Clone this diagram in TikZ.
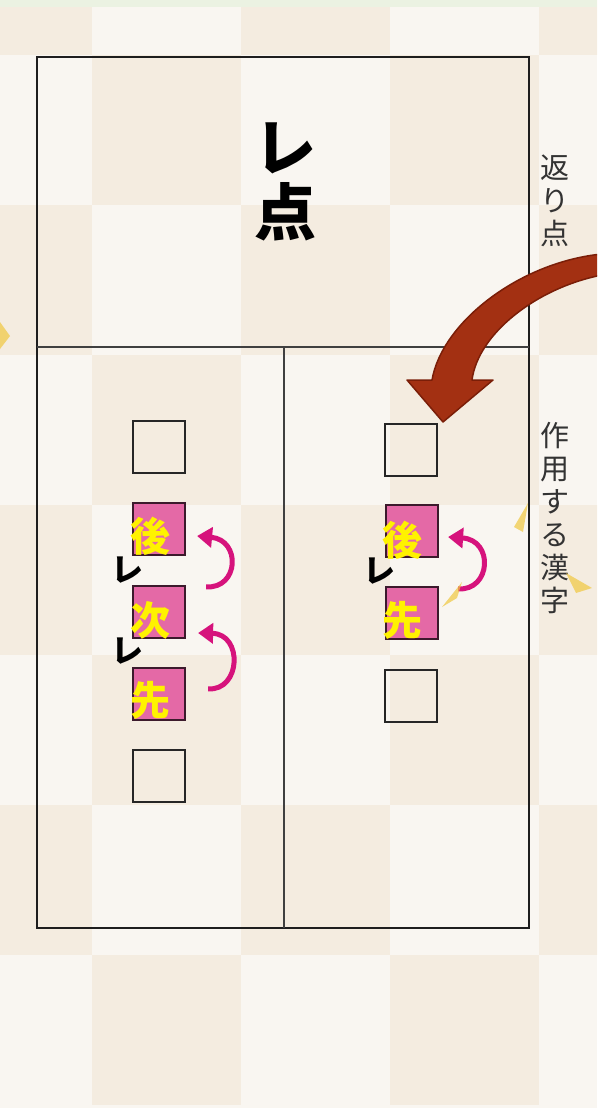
\documentclass[tikz,border=0pt]{standalone}
\usepackage{fontspec}
\newfontfamily\cjk{Noto Sans CJK JP}
\usetikzlibrary{arrows.meta,calc}
\definecolor{tileA}{HTML}{F9F6F1}
\definecolor{tileB}{HTML}{F4ECE0}
\definecolor{pinkfill}{HTML}{E469A6}
\definecolor{pinkedge}{HTML}{3C1A2C}
\definecolor{magarrow}{HTML}{D6137C}
\definecolor{redarrow}{HTML}{A33012}
\definecolor{rededge}{HTML}{7A1E08}
\definecolor{labelgray}{HTML}{333333}
\definecolor{framegray}{HTML}{1E1E1E}
\definecolor{topgreen}{HTML}{EBF2E2}
\definecolor{smudge}{HTML}{F0C840}
\begin{document}
\begin{tikzpicture}[x=1pt,y=-1pt,
  frameline/.style={draw=framegray,line width=2.3pt},
  divline/.style={draw=framegray!85,line width=1.8pt},
  ebox/.style={draw=black!85,line width=2.2pt,minimum size=52pt,inner sep=0pt},
  pbox/.style={draw=pinkedge,fill=pinkfill,line width=2.2pt,minimum size=52pt,inner sep=0pt},
  kanaY/.style={text=yellow,font=\cjk\bfseries\fontsize{40}{40}\selectfont,inner sep=0pt},
  remark/.style={text=black,font=\cjk\bfseries\fontsize{32}{32}\selectfont,inner sep=0pt},
  sidelabel/.style={text=labelgray,align=center,inner sep=0pt,font=\cjk\fontsize{29}{33}\selectfont},
  titlelabel/.style={text=black,align=center,inner sep=0pt,font=\cjk\bfseries\fontsize{62}{65}\selectfont},
  marrow/.style={draw=magarrow,line width=5pt,-{Triangle[length=15pt,width=20pt]}},
  smudgefill/.style={fill=smudge,opacity=0.7}
]
\useasboundingbox (0,0) rectangle (597,1108);
\clip (0,0) rectangle (597,1108);
% background checker
\fill[tileA] (0,0) rectangle (597,1108);
\foreach \c in {0,...,4}{
  \foreach \r in {0,...,7}{
    \pgfmathtruncatemacro{\pp}{mod(\c+\r,2)}
    \ifnum\pp=0
      \fill[tileB] ({-57+149*\c},{-95+150*\r}) rectangle ++(149,150);
    \fi
  }
}
\fill[topgreen] (0,0) rectangle (597,7);
% frame
\draw[frameline] (37,57) rectangle (529,928);
\draw[divline] (37,347) -- (529,347);
\draw[divline] (284,347) -- (284,928);
% title and side labels
\node[titlelabel] (title) at (285,182) {レ\\点};
\node[sidelabel] (lab1) at (555,201) {返\\り\\点};
\node[sidelabel] (lab2) at (555,518) {作\\用\\す\\る\\漢\\字};
% left column
\node[ebox] (L1) at (159,447) {};
\node[pbox] (L2) at (159,529) {};
\node[pbox] (L3) at (159,612) {};
\node[pbox] (L4) at (159,694) {};
\node[ebox] (L5) at (159,776) {};
% right column
\node[ebox] (R1) at (411,450) {};
\node[pbox] (R2) at (412,531) {};
\node[pbox] (R3) at (412,613) {};
\node[ebox] (R4) at (411,696) {};
% yellow kanji
\node[kanaY] (kL2) at (150,536) {後};
\node[kanaY] (kL3) at (150,620) {次};
\node[kanaY] (kL4) at (150,700) {先};
\node[kanaY] (kR2) at (402,540) {後};
\node[kanaY] (kR3) at (402,620) {先};
% re marks
\node[remark] (m1) at (127,570) {レ};
\node[remark] (m2) at (127,651) {レ};
\node[remark] (m3) at (379,571) {レ};
% magenta arrows
\draw[marrow] ($(L3.north east)+(20,2)$) .. controls ($(L3.north east)+(53,4)$) and ($(L2.east)+(55,11)$) .. ($(L2.east)+(11,7)$);
\draw[marrow] ($(L4.north east)+(22,22)$) .. controls ($(L4.north east)+(55,24)$) and ($(L3.east)+(57,22)$) .. ($(L3.east)+(12,21)$);
\draw[marrow] ($(R3.north east)+(19,3)$) .. controls ($(R3.north east)+(52,5)$) and ($(R2.east)+(55,9)$) .. ($(R2.east)+(9,6)$);
% big red arrow
\filldraw[fill=redarrow,draw=rededge,line width=1.5pt,line join=round]
  (602,254) .. controls (520,262) and (442,322) .. (432,380)
  -- (407,380) -- (443,422) -- (493,380) -- (472,380)
  .. controls (478,334) and (536,288) .. (602,275) -- cycle;
% faint yellow smudges
\fill[smudgefill] (0,322) -- (10,336) -- (0,349) -- cycle;
\fill[smudgefill] (528,503) -- (523,532) -- (514,527) -- cycle;
\fill[smudgefill] (566,573) -- (592,588) -- (576,593) -- cycle;
\fill[smudgefill] (462,582) -- (457,598) -- (442,607) -- cycle;
\end{tikzpicture}
\end{document}
